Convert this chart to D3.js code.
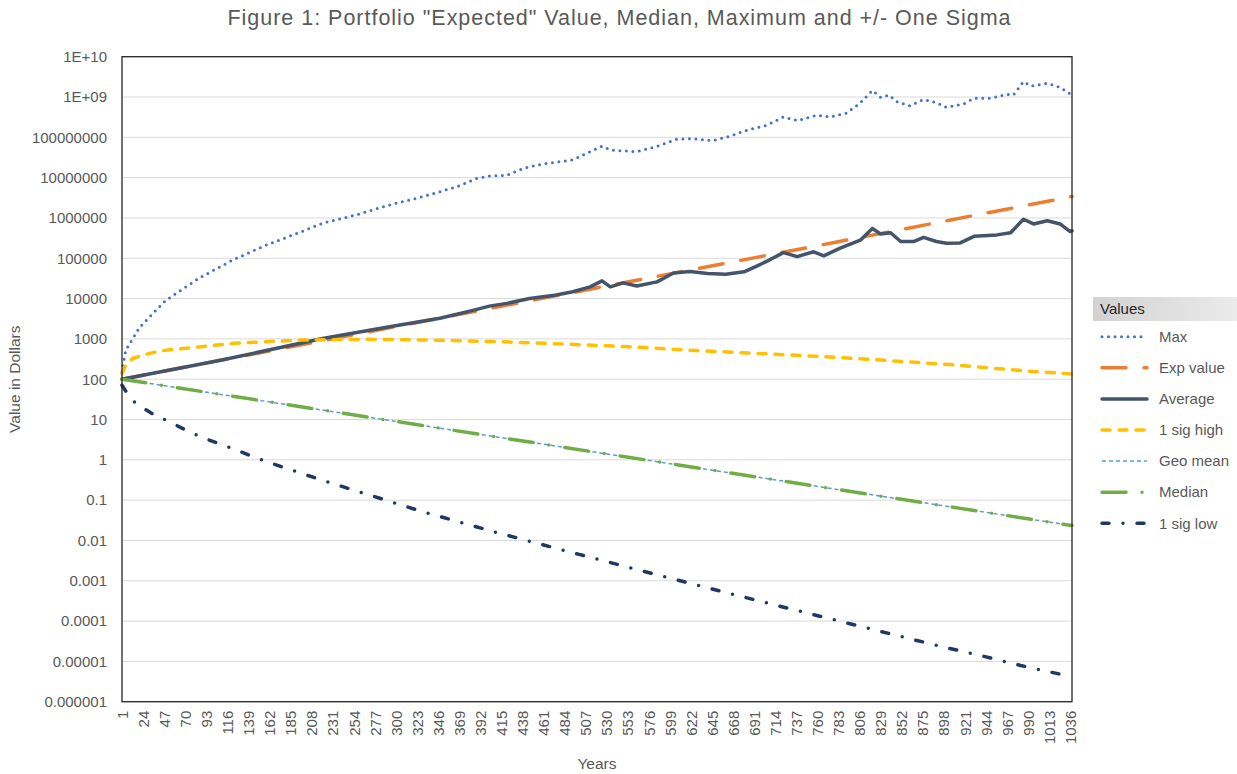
<html>
<head>
<meta charset="utf-8">
<script src="https://d3js.org/d3.v7.min.js"></script>
<style>
  body { margin: 0; background: #ffffff; }
  text { font-family: "Liberation Sans", Arial, sans-serif; fill: #595959; }
  .axis text { font-size: 15px; }
  .axis path { display: none; }
  .grid line { stroke: #d9d9d9; stroke-width: 1; }
  .legend text { font-size: 15px; }
</style>
</head>
<body>
<script>
    // ---- data ----
    var maxYears  = [1, 5, 10, 20, 31, 49, 85, 122, 158, 195, 220, 257, 293, 330, 366, 388, 402, 421, 439, 461, 493, 512, 525, 535, 563, 585, 606, 621, 646, 665, 683, 705, 723, 738, 759, 774, 792, 807, 820, 829, 838, 847, 861, 876, 890, 901, 920, 931, 949, 967, 974, 985, 993, 1011, 1025, 1038];
    var maxValues = [150, 520, 800, 1900, 3500, 9100, 32000, 91000, 2.1e5, 4.4e5, 7.4e5, 1.2e6, 2.1e6, 3.4e6, 5.9e6, 9.5e6, 1.1e7, 1.15e7, 1.7e7, 2.2e7, 2.75e7, 4.4e7, 6.0e7, 4.8e7, 4.4e7, 6.0e7, 8.9e7, 9.3e7, 8.3e7, 1.07e8, 1.5e8, 2.0e8, 3.2e8, 2.6e8, 3.5e8, 3.2e8, 4.0e8, 7.2e8, 1.45e9, 9.8e8, 1.12e9, 7.6e8, 6.0e8, 8.7e8, 7.2e8, 5.5e8, 6.8e8, 9.3e8, 9.3e8, 1.17e9, 1.12e9, 2.4e9, 1.86e9, 2.2e9, 1.74e9, 1.12e9];

    var expYears  = [1, 260, 520, 780, 1038];
    var expValues = [100, 1350, 1.86e4, 2.5e5, 3.4e6];

    var avgYears  = [1, 110, 220, 293, 348, 384, 402, 421, 446, 475, 493, 512, 525, 534, 548, 563, 585, 603, 621, 640, 660, 680, 695, 707, 723, 738, 756, 767, 785, 807, 820, 829, 840, 851, 865, 876, 890, 901, 916, 931, 956, 971, 985, 996, 1011, 1025, 1036, 1038];
    var avgValues = [100, 300, 1020, 2000, 3240, 5100, 6500, 7600, 1.0e4, 1.23e4, 1.48e4, 1.95e4, 2.75e4, 1.95e4, 2.45e4, 2.05e4, 2.6e4, 4.3e4, 4.7e4, 4.2e4, 4.0e4, 4.6e4, 6.6e4, 8.9e4, 1.38e5, 1.1e5, 1.45e5, 1.15e5, 1.78e5, 2.8e5, 5.5e5, 4.0e5, 4.3e5, 2.6e5, 2.6e5, 3.3e5, 2.6e5, 2.35e5, 2.4e5, 3.5e5, 3.8e5, 4.3e5, 9.3e5, 7.1e5, 8.5e5, 7.1e5, 4.6e5, 4.8e5];

    var sigHighYears  = [1, 5, 13, 31, 49, 85, 122, 158, 195, 268, 340, 413, 486, 559, 628, 694, 767, 840, 912, 985, 1038];
    var sigHighValues = [138, 224, 331, 437, 525, 631, 776, 851, 933, 977, 933, 851, 741, 631, 513, 437, 363, 288, 224, 162, 135];

    var geoYears  = [1, 260, 520, 780, 1038];
    var geoValues = [100, 12.4, 1.52, 0.187, 0.0234];

    var medianYears  = [1, 260, 520, 780, 1038];
    var medianValues = [100, 12.4, 1.52, 0.187, 0.0234];

    var sigLowYears  = [1, 8, 16, 34, 53, 75, 96, 122, 147, 177, 213, 248, 286, 324, 364, 408, 500, 600, 700, 800, 890, 938, 982, 1029, 1038];
    var sigLowValues = [71, 40, 25, 14, 8.7, 4.9, 3.1, 1.9, 1.12, 0.65, 0.35, 0.195, 0.105, 0.056, 0.031, 0.0162, 0.0045, 0.00115, 3.0e-4, 8.1e-5, 2.5e-5, 1.4e-5, 7.9e-6, 4.6e-6, 4.2e-6];

    var xTickYears = [1, 24, 47, 70, 93, 116, 139, 162, 185, 208, 231, 254, 277, 300, 323, 346, 369, 392, 415, 438, 461, 484, 507, 530, 553, 576, 599, 622, 645, 668, 691, 714, 737, 760, 783, 806, 829, 852, 875, 898, 921, 944, 967, 990, 1013, 1036];
    var yTickValues = [1e10, 1e9, 1e8, 1e7, 1e6, 1e5, 1e4, 1e3, 100, 10, 1, 0.1, 0.01, 0.001, 0.0001, 0.00001, 0.000001];
    var yTickLabels = ["1E+10", "1E+09", "100000000", "10000000", "1000000", "100000", "10000", "1000", "100", "10", "1", "0.1", "0.01", "0.001", "0.0001", "0.00001", "0.000001"];

    // series in Excel drawing order
    var series = [
        {name: "Max",       years: maxYears,     values: maxValues,     color: "#4472c4", width: 3,   dash: "0,6.5",        cap: "round"},
        {name: "Exp value", years: expYears,     values: expValues,     color: "#ed7d31", width: 3.5, dash: "24,18",        cap: "round"},
        {name: "Average",   years: avgYears,     values: avgValues,     color: "#44546a", width: 3.5, dash: null,           cap: "round"},
        {name: "1 sig high",years: sigHighYears, values: sigHighValues, color: "#ffc000", width: 3.5, dash: "8,9",          cap: "round"},
        {name: "Geo mean",  years: geoYears,     values: geoValues,     color: "#5b9bd5", width: 1.5, dash: "4,3",          cap: "butt"},
        {name: "Median",    years: medianYears,  values: medianValues,  color: "#70ad47", width: 3.5, dash: "24,16,0,16",   cap: "round"},
        {name: "1 sig low", years: sigLowYears,  values: sigLowValues,  color: "#203864", width: 3.5, dash: "7,14,0,14",    cap: "round"}
    ];

    // ---- layout ----
    var W = 1237, H = 774;
    var margin = {top: 56.7, left: 122, right: 165, bottom: 72.3};
    var width = 950, height = 645;

    var svg = d3.select("body").append("svg")
        .attr("width", W).attr("height", H)
        .style("background-color", "#ffffff");

    // title
    svg.append("text")
        .attr("x", 619).attr("y", 25)
        .attr("text-anchor", "middle")
        .attr("textLength", 783)
        .attr("lengthAdjust", "spacing")
        .style("font-size", "21.5px")
        .text('Figure 1: Portfolio "Expected" Value, Median, Maximum and +/- One Sigma');

    var g = svg.append("g")
        .attr("transform", "translate(" + margin.left + "," + margin.top + ")");

    var xScale = d3.scaleLinear().domain([1, 1038]).range([0, width]);
    var yScale = d3.scaleLog().domain([1e-6, 1e10]).range([height, 0]);

    // horizontal gridlines
    g.append("g").attr("class", "grid")
        .selectAll("line")
        .data(yTickValues)
        .enter().append("line")
        .attr("x1", 0).attr("x2", width)
        .attr("y1", function(d){ return yScale(d); })
        .attr("y2", function(d){ return yScale(d); });

    // y axis
    g.append("g").attr("class", "axis")
        .call(d3.axisLeft(yScale)
            .tickValues(yTickValues)
            .tickFormat(function(d, i){ return yTickLabels[i]; })
            .tickSize(0).tickPadding(15));

    // x axis, rotated labels
    var xAxis = g.append("g").attr("class", "axis")
        .attr("transform", "translate(0," + height + ")")
        .call(d3.axisBottom(xScale).tickValues(xTickYears).tickSize(0).tickFormat(d3.format("d")));
    xAxis.selectAll("text")
        .attr("transform", "rotate(-90)")
        .attr("x", -9).attr("y", 0).attr("dy", "0.35em")
        .style("text-anchor", "end");

    // clip for the lines
    svg.append("clipPath").attr("id", "plotclip")
        .append("rect").attr("x", -2).attr("y", -2).attr("width", width + 4).attr("height", height + 4);

    var line = d3.line()
        .x(function(d){ return xScale(d[0]); })
        .y(function(d){ return yScale(d[1]); });

    var lines = g.append("g").attr("clip-path", "url(#plotclip)");
    series.forEach(function(s){
        var pts = s.years.map(function(y, i){ return [y, s.values[i]]; });
        lines.append("path")
            .datum(pts)
            .attr("d", line)
            .attr("fill", "none")
            .attr("stroke", s.color)
            .attr("stroke-width", s.width)
            .attr("stroke-dasharray", s.dash)
            .attr("stroke-linecap", s.cap)
            .attr("stroke-linejoin", "round");
    });

    // plot border
    g.append("rect")
        .attr("x", 0).attr("y", 0).attr("width", width).attr("height", height)
        .attr("fill", "none").attr("stroke", "#262626").attr("stroke-width", 1.3);

    // axis titles
    svg.append("text")
        .attr("transform", "translate(20," + (margin.top + height / 2) + ") rotate(-90)")
        .attr("text-anchor", "middle")
        .style("font-size", "15.5px")
        .text("Value in Dollars");
    svg.append("text")
        .attr("x", 597).attr("y", 769)
        .attr("text-anchor", "middle")
        .style("font-size", "15.5px")
        .text("Years");

    // legend
    var grad = svg.append("defs").append("linearGradient").attr("id", "hdr");
    grad.append("stop").attr("offset", "0%").attr("stop-color", "#d2d2d2");
    grad.append("stop").attr("offset", "100%").attr("stop-color", "#ebebeb");

    var legend = svg.append("g").attr("class", "legend");
    legend.append("rect")
        .attr("x", 1093).attr("y", 297).attr("width", 144).attr("height", 24)
        .attr("fill", "url(#hdr)");
    legend.append("text")
        .attr("x", 1100).attr("y", 309).attr("dy", "0.35em")
        .style("fill", "#262626")
        .text("Values");

    var items = legend.selectAll(".item")
        .data(series)
        .enter().append("g")
        .attr("class", "item")
        .attr("transform", function(d, i){ return "translate(0," + (336.7 + i * 31.1) + ")"; });
    items.append("line")
        .attr("x1", 1102).attr("x2", 1147)
        .attr("y1", 0).attr("y2", 0)
        .attr("stroke", function(d){ return d.color; })
        .attr("stroke-width", function(d){ return d.width; })
        .attr("stroke-dasharray", function(d){ return d.dash; })
        .attr("stroke-linecap", function(d){ return d.cap; });
    items.append("text")
        .attr("x", 1159).attr("y", 0).attr("dy", "0.35em")
        .text(function(d){ return d.name; });
</script>
</body>
</html>
